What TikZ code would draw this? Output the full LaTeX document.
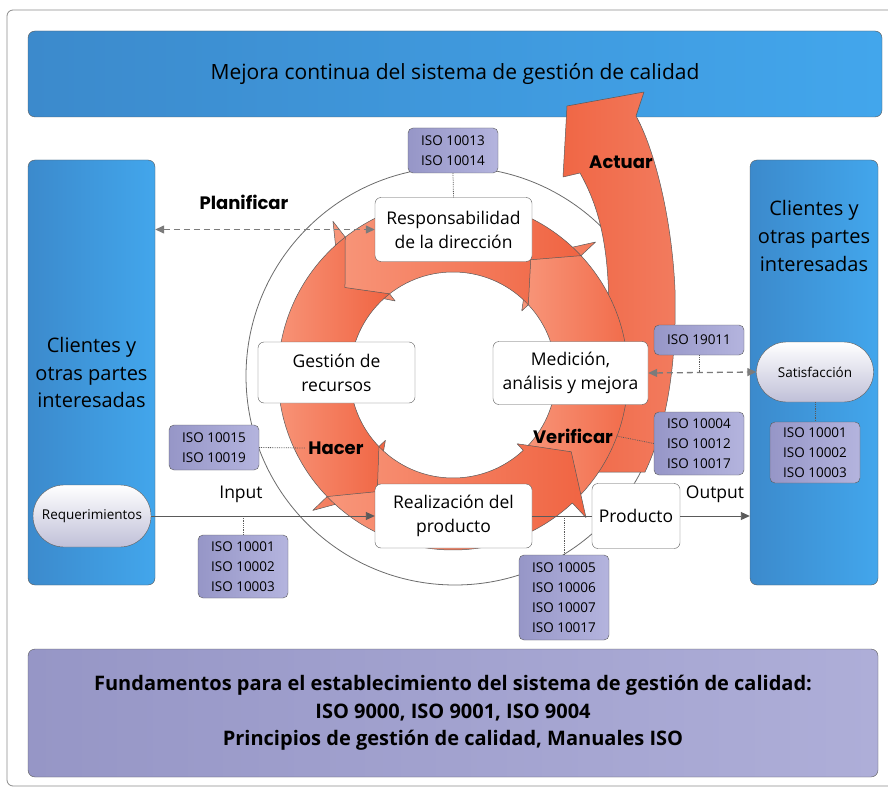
\documentclass[tikz,border=0pt]{standalone}
\usepackage{fontspec}
\setmainfont{Open Sans}
\newfontfamily\phasefont{Poppins}
\usetikzlibrary{arrows.meta,shapes.misc}

\definecolor{blueA}{RGB}{60,138,204}
\definecolor{blueB}{RGB}{66,166,236}
\definecolor{isoA}{RGB}{150,150,199}
\definecolor{isoB}{RGB}{180,180,222}
\definecolor{baseA}{RGB}{150,150,198}
\definecolor{baseB}{RGB}{174,174,216}
\definecolor{ringA}{RGB}{248,150,122}
\definecolor{ringB}{RGB}{240,100,66}
\definecolor{edge}{RGB}{90,90,90}
\definecolor{capsB}{RGB}{192,192,216}

\tikzset{
  paneltext/.style={align=center, font=\fontsize{20}{27.5}\selectfont},
  panel/.style={paneltext, draw=edge, rounded corners=7pt, left color=blueA, right color=blueB},
  procbox/.style={draw=edge, fill=white, rounded corners=6pt, align=center, inner sep=0pt, font=\fontsize{17.5}{24}\selectfont},
  isobox/.style={draw=edge, rounded corners=5pt, left color=isoA, right color=isoB, align=center, inner sep=0pt, minimum width=90pt, font=\fontsize{13.5}{20}\selectfont},
  capsule/.style={draw=edge, rounded rectangle, top color=white, bottom color=capsB, inner sep=0pt, font=\fontsize{13.5}{16}\selectfont},
  ringpart/.style={draw=edge, line width=0.5pt, left color=ringA, right color=ringB, line join=round},
  phase/.style={font=\phasefont\bfseries\fontsize{18}{20}\selectfont},
  flowtext/.style={font=\fontsize{17.5}{20}\selectfont},
  flowline/.style={draw=edge, line width=0.9pt, -{Triangle[length=9pt,width=8pt]}},
  dashlink/.style={draw=edge!80, line width=1.3pt, dash pattern=on 6pt off 4pt, {Triangle[length=9pt,width=8pt]}-{Triangle[length=9pt,width=8pt]}},
  isolink/.style={draw=edge, densely dotted, line width=0.8pt}
}

\begin{document}
\begin{tikzpicture}[x=1pt, y=-1pt]
  \useasboundingbox (0,0) rectangle (888,794);
  \draw[edge!70, rounded corners=6pt, line width=0.8pt] (7,10) rectangle (896,786);

  \node[panel, minimum width=854pt, minimum height=86pt, font=\fontsize{21}{24}\selectfont] (mejora) at (455,74) {Mejora continua del sistema de gestión de calidad};
  \node[panel, minimum width=127pt, minimum height=425pt] (clientesL) at (91.5,372.5) {Clientes y\\otras partes\\interesadas};
  \node[panel, minimum width=128pt, minimum height=425pt] (clientesR) at (814,372.5) {};
  \node[paneltext] (clientesRtxt) at (814,236) {Clientes y\\otras partes\\interesadas};
  \node[draw=edge, rounded corners=7pt, left color=baseA, right color=baseB, minimum width=850pt, minimum height=128pt,
        align=center, font=\bfseries\fontsize{20}{27.5}\selectfont] (fundamentos) at (453,713)
        {Fundamentos para el establecimiento del sistema de gestión de calidad:\\ISO 9000, ISO 9001, ISO 9004\\Principios de gestión de calidad, Manuales ISO};

  \draw[edge!90, line width=0.8pt] (455,376) circle[radius=209];

  \draw[ringpart, left color=ringB, right color=ringB!85!white] (548,472) .. controls (590,400) and (612,330) .. (608,280)
    .. controls (605,230) and (595,200) .. (580,173) -- (563,177) -- (567,106) -- (644,92) -- (636,116)
    .. controls (655,150) and (672,220) .. (675,290) .. controls (677,370) and (665,430) .. (645,472) -- cycle;

  \begin{scope}[shift={(453,375)}]
    \foreach \t/\b/\p in {47/-43/-57, -43/-128/-143, -128/-224/-237, -224/-313/-327}
      \draw[ringpart] (\t:175) arc[start angle=\t, end angle=\b, radius=175]
        -- (\b:195) -- (\p:141) -- (\b:94) -- (\b:103)
        arc[start angle=\b, end angle=\t, radius=103] -- ({\t-13}:139) -- cycle;
  \end{scope}

  \node[procbox, minimum width=157pt, minimum height=64pt] (resp) at (453.5,229.5) {Responsabilidad\\de la dirección};
  \node[procbox, minimum width=157pt, minimum height=61pt] (gest) at (336.5,372.5) {Gestión de\\recursos};
  \node[procbox, minimum width=155pt, minimum height=63pt] (medic) at (570.5,373) {Medición,\\análisis y mejora};
  \node[procbox, minimum width=157pt, minimum height=64pt] (real) at (453.5,516) {Realización del\\producto};
  \node[procbox, minimum width=88pt, minimum height=65pt] (prod) at (636,516) {Producto};

  \node[capsule, minimum width=118pt, minimum height=62pt] (req) at (92,516) {Requerimientos};
  \node[capsule, minimum width=117pt, minimum height=60pt] (sat) at (815,372) {Satisfacción};

  \node[isobox, minimum height=45pt] (iso13) at (453,150.5) {ISO 10013\\ISO 10014};
  \node[isobox, minimum height=45pt] (iso15) at (214,447.5) {ISO 10015\\ISO 10019};
  \node[isobox, minimum height=63pt] (isoIn) at (243,566.5) {ISO 10001\\ISO 10002\\ISO 10003};
  \node[isobox, minimum height=85pt] (iso05) at (564,597.5) {ISO 10005\\ISO 10006\\ISO 10007\\ISO 10017};
  \node[isobox, minimum height=30pt] (iso19) at (699,340) {ISO 19011};
  \node[isobox, minimum height=63pt] (iso04) at (699,443.5) {ISO 10004\\ISO 10012\\ISO 10017};
  \node[isobox, minimum height=61pt] (isoSat) at (815,452.5) {ISO 10001\\ISO 10002\\ISO 10003};

  \node[phase] (planificar) at (244,202) {Planificar};
  \node[phase] (actuar) at (621,162) {Actuar};
  \node[phase] (hacer) at (336,448) {Hacer};
  \node[phase] (verificar) at (573,436) {Verificar};

  \node[flowtext] (input) at (241,494) {Input};
  \node[flowtext] (output) at (715,494) {Output};

  \draw[dashlink] (clientesL.east |- resp.west) -- (resp.west);
  \draw[dashlink] (medic.east) -- (sat.west);
  \draw[flowline] (req.east) -- (real.west);
  \draw[draw=edge, line width=0.9pt] (real.east) -- (prod.west);
  \draw[flowline] (prod.east) -- (clientesR.west |- prod.east);

  \draw[isolink] (iso13.south) -- (resp.north);
  \draw[isolink] (iso15.east) -- (hacer.west);
  \draw[isolink] (isoIn.north) -- (isoIn.north |- real.west);
  \draw[isolink] (iso05.north) -- (iso05.north |- real.east);
  \draw[isolink] (iso19.south) -- (iso19.south |- medic.east);
  \draw[isolink] (iso04.west) -- (verificar.east);
  \draw[isolink] (sat.south) -- (isoSat.north);
\end{tikzpicture}
\end{document}
